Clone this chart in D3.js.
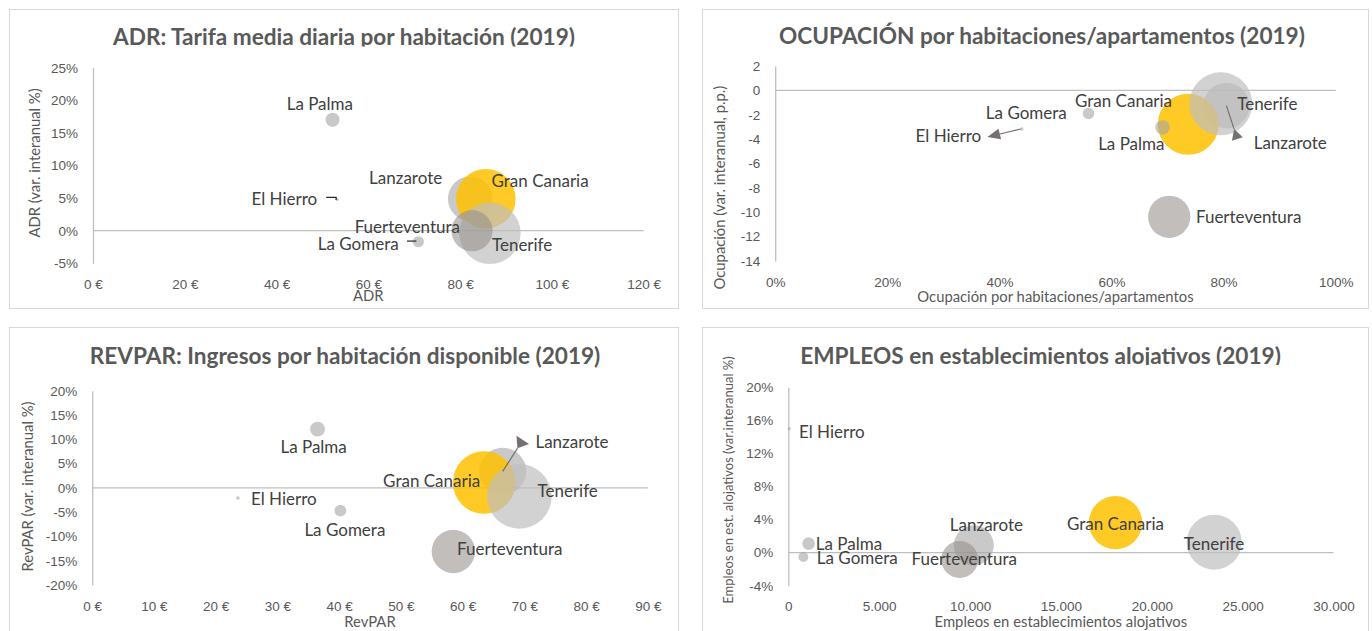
<!DOCTYPE html>
<html>
<head>
<meta charset="utf-8">
<script src="https://cdn.jsdelivr.net/npm/d3@7"></script>
<style>
  body { margin: 0; background: #fff; }
  svg { display: block; font-family: Lato, "Open Sans", sans-serif; }
</style>
</head>
<body>
<script>
// islands, in drawing order for the bubbles
const islands = ["Lanzarote", "Gran Canaria", "Tenerife", "Fuerteventura", "La Palma", "La Gomera", "El Hierro"];
const bubbleSize = [53, 94, 100, 45, 5.3, 3.3, 0.3];

const adr = [82.2, 85.6, 86.5, 82.6, 52.2, 70.9, 53.2];
const adrVar = [4.9, 4.9, -0.4, 0.0, 17.0, -1.7, 4.8];
const adrTicks = [0, 20, 40, 60, 80, 100, 120];
const adrVarTicks = [-5, 0, 5, 10, 15, 20, 25];

const ocupacion = [80.5, 73.7, 79.5, 70.3, 69.1, 55.9, 44.0];
const ocupacionVar = [-1.25, -2.78, -1.1, -10.37, -3.04, -1.89, -3.17];
const ocupTicks = [0, 20, 40, 60, 80, 100];
const ocupVarTicks = [-14, -12, -10, -8, -6, -4, -2, 0, 2];

const revpar = [66.5, 63.5, 69.2, 58.5, 36.5, 40.2, 23.6];
const revparVar = [3.4, 1.1, -1.75, -13.1, 12.1, -4.7, -2.1];
const revparTicks = [0, 10, 20, 30, 40, 50, 60, 70, 80, 90];
const revparVarTicks = [-20, -15, -10, -5, 0, 5, 10, 15, 20];

const empleos = [10207, 18005, 23436, 9432, 1117, 831, 55];
const empleosVar = [0.88, 3.63, 1.27, -0.83, 1.09, -0.53, 15.0];
const empleosTicks = [0, 5000, 10000, 15000, 20000, 25000, 30000];
const empleosVarTicks = [-4, 0, 4, 8, 12, 16, 20];

const fills = {
  "Lanzarote": ["#a5a5a5", 0.6],
  "Gran Canaria": ["#ffc000", 0.85],
  "Tenerife": ["#bfbfbf", 0.7],
  "Fuerteventura": ["#948f8c", 0.58],
  "La Palma": ["#a5a5a5", 0.6],
  "La Gomera": ["#a5a5a5", 0.6],
  "El Hierro": ["#a5a5a5", 0.6]
};

const euro = (d) => d + " €";
const pct = (d) => d + "%";
const miles = (d) => d3.format(",")(d).replace(/,/g, ".");

const svg = d3.select("body").append("svg")
  .attr("width", 1372)
  .attr("height", 631);

function bubblePanel(o) {
  const g = svg.append("g");

  g.append("rect")
    .attr("x", o.box[0] + 0.5)
    .attr("y", o.box[1] + 0.5)
    .attr("width", o.box[2] - o.box[0])
    .attr("height", o.box[3] - o.box[1])
    .attr("fill", "#fff")
    .attr("stroke", "#d9d9d9");

  const title = g.append("text")
    .attr("x", o.titlePos[0])
    .attr("y", o.titlePos[1])
    .attr("text-anchor", "middle")
    .attr("font-size", 22.6)
    .attr("font-weight", "bold")
    .attr("fill", "#595959")
    .text(o.title);
  if (o.titleClip) {
    svg.append("clipPath").attr("id", o.id + "clip")
      .append("rect")
      .attr("x", o.box[0]).attr("y", o.box[1])
      .attr("width", o.box[2] - o.box[0])
      .attr("height", o.titleClip - o.box[1]);
    title.attr("clip-path", `url(#${o.id}clip)`);
  }

  const x = d3.scaleLinear().domain(o.xDomain).range(o.xRange);
  const y = d3.scaleLinear().domain(o.yDomain).range(o.yRange);
  const r = d3.scaleSqrt().domain([0, d3.max(bubbleSize)]).range([0, o.rMax]);

  const yAxis = g.append("g")
    .attr("transform", `translate(${o.xRange[0]},0)`)
    .call(d3.axisLeft(y).tickValues(o.yTicks).tickSize(0).tickSizeOuter(0)
      .tickPadding(15).tickFormat(o.yFormat));
  yAxis.select(".domain").attr("stroke", "#bfbfbf").attr("stroke-width", 1.3);
  yAxis.selectAll("text").attr("font-size", 13.5).attr("fill", "#595959")
    .attr("font-family", null);

  g.append("line")
    .attr("x1", o.xRange[0]).attr("x2", o.xRange[1])
    .attr("y1", y(0)).attr("y2", y(0))
    .attr("stroke", "#bfbfbf").attr("stroke-width", 1.3);

  const xAxis = g.append("g")
    .attr("transform", `translate(0,${o.yRange[0]})`)
    .call(d3.axisBottom(x).tickValues(o.xTicks).tickSize(0).tickFormat(o.xFormat));
  xAxis.select(".domain").remove();
  xAxis.selectAll("text").attr("font-size", 13.5).attr("fill", "#595959")
    .attr("font-family", null)
    .attr("y", 21).attr("dy", "0.35em");

  g.append("text")
    .attr("x", (o.xRange[0] + o.xRange[1]) / 2)
    .attr("y", o.yRange[0] + o.xTitleDy)
    .attr("dy", "0.35em")
    .attr("text-anchor", "middle")
    .attr("font-size", 14.8).attr("fill", "#595959")
    .text(o.xTitle);

  g.append("text")
    .attr("transform", `translate(${o.yTitlePos[0]},${o.yTitlePos[1]}) rotate(-90)`)
    .attr("dy", "0.35em")
    .attr("text-anchor", "middle")
    .attr("font-size", o.yTitleSize || 14.8).attr("fill", "#595959")
    .text(o.yTitle);

  const pts = islands.map((name, i) => ({
    name, cx: x(o.xs[i]), cy: y(o.ys[i]), r: r(bubbleSize[i])
  }));

  g.selectAll("circle.bubble")
    .data(pts)
    .enter()
    .append("circle")
    .attr("class", "bubble")
    .attr("cx", (d) => d.cx)
    .attr("cy", (d) => d.cy)
    .attr("r", (d) => Math.max(d.r, 1.6))
    .attr("fill", (d) => fills[d.name][0])
    .attr("fill-opacity", (d) => fills[d.name][1]);

  // leader lines and arrows drawn by hand in the original
  (o.leaders || []).forEach((l) => {
    const p = pts.find((d) => d.name === l.name);
    g.append("polyline")
      .attr("points", l.path.map((q) => [p.cx + q[0], p.cy + q[1]].join(",")).join(" "))
      .attr("fill", "none")
      .attr("stroke", l.color || "#767171")
      .attr("stroke-width", 1.2);
    if (l.head) {
      const a = l.path[l.path.length - 2];
      const b = l.path[l.path.length - 1];
      const len = Math.hypot(b[0] - a[0], b[1] - a[1]);
      const ux = (b[0] - a[0]) / len, uy = (b[1] - a[1]) / len;
      const ex = p.cx + b[0], ey = p.cy + b[1];
      const [hl, hw, rev] = l.head;
      const base = rev ? [ex + ux * hl, ey + uy * hl] : [ex, ey];
      const tip = rev ? [ex, ey] : [ex + ux * hl, ey + uy * hl];
      g.append("polygon")
        .attr("points", [
          tip,
          [base[0] - uy * hw, base[1] + ux * hw],
          [base[0] + uy * hw, base[1] - ux * hw]
        ].map((q) => q.join(",")).join(" "))
        .attr("fill", "#767171");
    }
  });

  g.selectAll("text.label")
    .data(pts)
    .enter()
    .append("text")
    .attr("class", "label")
    .attr("x", (d) => d.cx + o.labels[d.name][0])
    .attr("y", (d) => d.cy + o.labels[d.name][1])
    .attr("dy", "0.35em")
    .attr("text-anchor", (d) => o.labels[d.name][2])
    .attr("font-size", 17)
    .attr("fill", "#404040")
    .text((d) => d.name);
}

bubblePanel({
  id: "adr",
  box: [9, 9, 678, 308],
  title: "ADR: Tarifa media diaria por habitación (2019)",
  titlePos: [344, 45],
  titleClip: 46.5,
  xs: adr, ys: adrVar,
  xDomain: [0, 120], xRange: [93, 643.7], xTicks: adrTicks, xFormat: euro,
  yDomain: [-5, 25], yRange: [263.3, 67.7], yTicks: adrVarTicks, yFormat: pct,
  rMax: 30.7,
  xTitle: "ADR", xTitleDy: 33,
  yTitle: "ADR (var. interanual %)", yTitlePos: [35, 163],
  labels: {
    "Tenerife": [2, 11.3, "start"],
    "Gran Canaria": [5.7, -17.6, "start"],
    "Lanzarote": [-28, -20.6, "end"],
    "Fuerteventura": [-12, -3.3, "end"],
    "La Palma": [-12.7, -16.3, "middle"],
    "La Gomera": [-19.7, 2, "end"],
    "El Hierro": [-20, -0.7, "end"]
  },
  leaders: [
    { name: "El Hierro", path: [[-11, -2], [-1, -2], [-1, 0.5]], color: "#262626" },
    { name: "La Gomera", path: [[-11.4, -0.7], [-2, -0.7]], color: "#262626" }
  ]
});

bubblePanel({
  id: "ocup",
  box: [702, 9, 1368, 308],
  title: "OCUPACIÓN por habitaciones/apartamentos (2019)",
  titlePos: [1042, 43.5],
  xs: ocupacion, ys: ocupacionVar,
  xDomain: [0, 100], xRange: [775.2, 1335.7], xTicks: ocupTicks, xFormat: pct,
  yDomain: [-14, 2], yRange: [261, 66], yTicks: ocupVarTicks, yFormat: (d) => d,
  rMax: 31.5,
  xTitle: "Ocupación por habitaciones/apartamentos", xTitleDy: 36,
  yTitle: "Ocupación (var. interanual, p.p.)", yTitlePos: [719.7, 187.6],
  labels: {
    "Tenerife": [16.4, 0.6, "start"],
    "Gran Canaria": [-16.2, -23.5, "end"],
    "Lanzarote": [27.3, 37.2, "start"],
    "Fuerteventura": [26.7, 0.6, "start"],
    "La Palma": [2, 16.7, "end"],
    "La Gomera": [-21.7, -0.3, "end"],
    "El Hierro": [-40.6, 7.3, "end"]
  },
  leaders: [
    { name: "El Hierro", path: [[-1, 0], [-22, 5]], head: [12.8, 5.5, false] },
    { name: "Lanzarote", path: [[0, 0], [7.7, 23.5]], head: [10.5, 5.7, true] }
  ]
});

bubblePanel({
  id: "revpar",
  box: [9, 327, 678, 640],
  title: "REVPAR: Ingresos por habitación disponible (2019)",
  titlePos: [345, 364.3],
  xs: revpar, ys: revparVar,
  xDomain: [0, 90], xRange: [92.2, 647.8], xTicks: revparTicks, xFormat: euro,
  yDomain: [-20, 20], yRange: [585, 390.7], yTicks: revparVarTicks, yFormat: pct,
  rMax: 32.3,
  xTitle: "RevPAR", xTitleDy: 36.7,
  yTitle: "RevPAR (var. interanual %)", yTitlePos: [28.3, 486.5],
  labels: {
    "Tenerife": [18.1, -5.5, "start"],
    "Gran Canaria": [-4, -1.6, "end"],
    "Lanzarote": [32.7, -29, "start"],
    "Fuerteventura": [3.7, -2.9, "start"],
    "La Palma": [-3.9, 17.7, "middle"],
    "La Gomera": [4.5, 19.3, "middle"],
    "El Hierro": [13.1, 1.3, "start"]
  },
  leaders: [
    { name: "Lanzarote", path: [[0, 0], [14.7, -23]], head: [10, 7.5, true] }
  ]
});

bubblePanel({
  id: "empleos",
  box: [702, 327, 1368, 640],
  title: "EMPLEOS en establecimientos alojativos (2019)",
  titlePos: [1040.6, 364],
  titleClip: 365,
  xs: empleos, ys: empleosVar,
  xDomain: [0, 30000], xRange: [788.3, 1333.5], xTicks: empleosTicks, xFormat: miles,
  yDomain: [-4, 20], yRange: [585.7, 387.3], yTicks: empleosVarTicks, yFormat: pct,
  rMax: 27.5,
  xTitle: "Empleos en establecimientos alojativos", xTitleDy: 36,
  yTitle: "Empleos en est. alojativos (var.interanual %)", yTitlePos: [728.4, 480],
  yTitleSize: 13,
  labels: {
    "Tenerife": [-0.2, 1.5, "middle"],
    "Gran Canaria": [0, 1, "middle"],
    "Lanzarote": [12.6, -20.7, "middle"],
    "Fuerteventura": [4.5, -0.2, "middle"],
    "La Palma": [7.2, 0.5, "start"],
    "La Gomera": [13.4, 1.5, "start"],
    "El Hierro": [9.7, 3.4, "start"]
  }
});
</script>
</body>
</html>
